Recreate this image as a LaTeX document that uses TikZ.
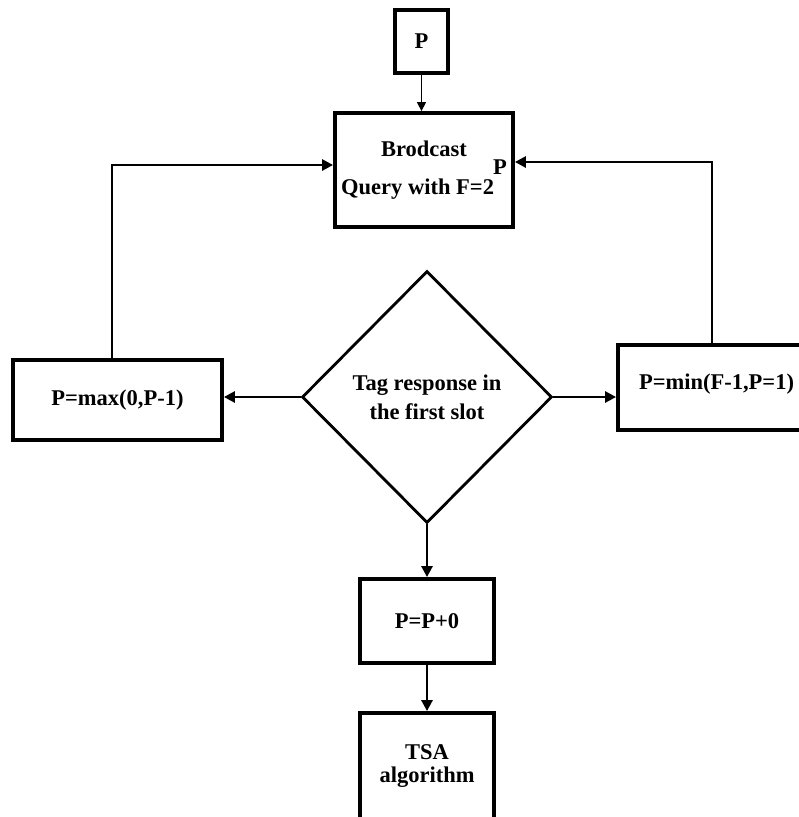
\documentclass[tikz,border=0pt]{standalone}
\usepackage{fontspec}
\setmainfont{Liberation Serif}
\usetikzlibrary{shapes.geometric,arrows.meta}
\begin{document}
\begin{tikzpicture}[x=1pt,y=-1pt,
  every node/.style={font=\bfseries\fontsize{22.5}{28}\selectfont},
  box/.style={draw, line width=3.8pt, inner sep=0pt, align=center},
  conn/.style={line width=2.6pt, -{Triangle[length=11pt,width=11pt]}},
  thinconn/.style={line width=1.4pt, -{Triangle[length=9pt,width=9pt]}}]
\useasboundingbox (0,0) rectangle (799,817);
\clip (0,0) rectangle (799,817);
\fill[white] (0,0) rectangle (799,817);

\node[box, minimum width=53pt, minimum height=63pt] (p) at (421.5,41.5) {P};
\node[box, minimum width=178pt, minimum height=114pt, font=\bfseries\fontsize{22.5}{38}\selectfont] (brod) at (424,170) {Brodcast\\Query with F=2\kern-1pt\raisebox{20pt}{P}};
\node[draw, diamond, line width=2.8pt, minimum width=250pt, minimum height=252pt, inner sep=0pt, align=center, font=\bfseries\fontsize{22.5}{29}\selectfont] (dec) at (427,397) {Tag response in\\the first slot};
\node[box, minimum width=209pt, minimum height=80pt] (lb) at (117.5,400) {P=max(0,P-1)};
\node[box, minimum width=197pt, minimum height=85pt, text depth=12pt] (rb) at (716.5,387.5) {P=min(F-1,P=1)};
\node[box, minimum width=134pt, minimum height=84pt] (pp) at (427,621) {P=P+0};
\node[box, minimum width=134pt, minimum height=106pt, font=\bfseries\fontsize{22.5}{23}\selectfont] (tsa) at (427,766) {TSA\\algorithm};

\draw[thinconn] (p.south) -- (p.south |- brod.north);
\draw[conn] ([xshift=-5.5pt]lb.north) |- ([yshift=5pt]brod.west);
\draw[conn] ([xshift=-4.5pt]rb.north) |- ([yshift=8pt]brod.east);
\draw[conn] (dec.west) -- (dec.west -| lb.east);
\draw[conn] (dec.east) -- (dec.east -| rb.west);
\draw[conn] (dec.south) -- (pp.north);
\draw[conn] (pp.south) -- (tsa.north);
\end{tikzpicture}
\end{document}
